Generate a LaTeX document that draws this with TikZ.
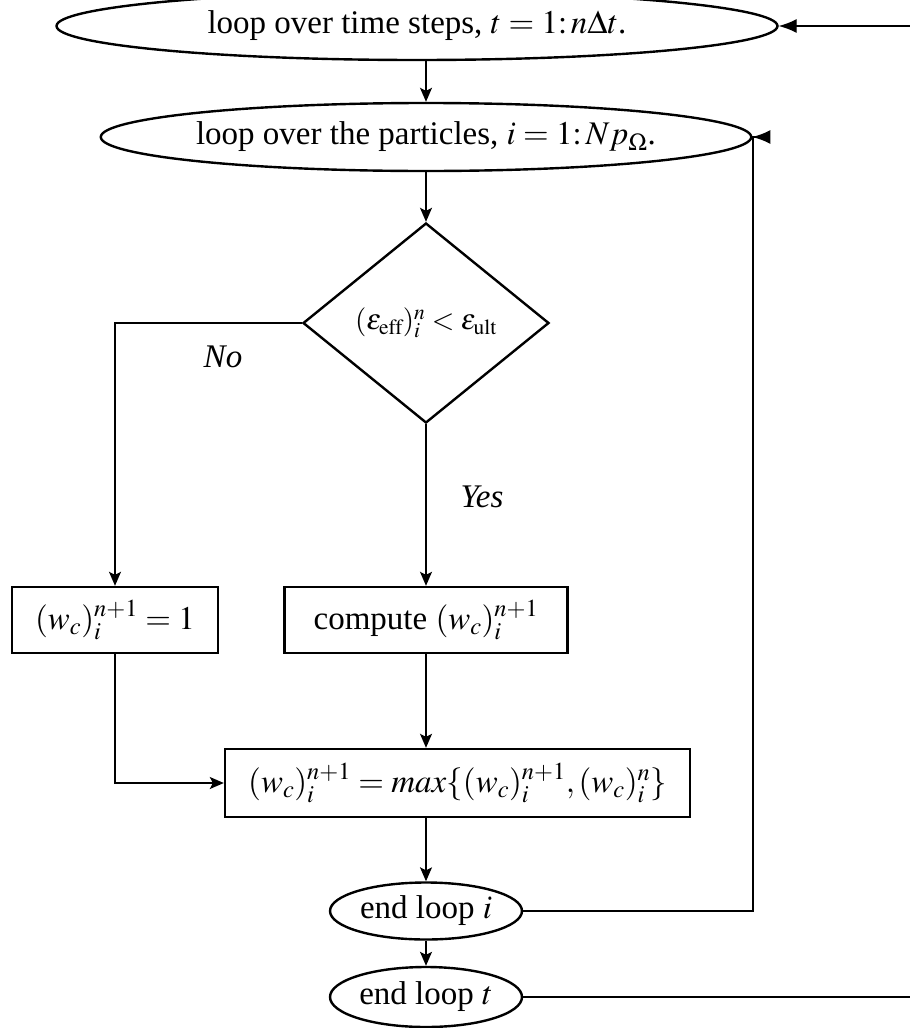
\documentclass[tikz,border=0pt]{standalone}
\usepackage{mathptmx}
\usepackage{fontspec}
\setmainfont{Liberation Serif}
\usetikzlibrary{shapes.geometric,arrows.meta}
\begin{document}
\begin{tikzpicture}[x=1pt,y=-1pt,
  every node/.style={font=\fontsize{33}{38}\selectfont},
  oval/.style={draw,ellipse,line width=2.4pt,inner sep=0pt},
  box/.style={draw,rectangle,line width=2.4pt,inner sep=0pt},
  decision/.style={draw,diamond,line width=2.4pt,inner sep=0pt},
  flow/.style={line width=1.4pt,-{Stealth[length=14pt,width=12pt,inset=3pt]}},
  back/.style={line width=1.4pt,-{Latex[length=18pt,width=14pt]}},
  lbl/.style={font=\fontsize{33}{38}\selectfont\itshape}]
\useasboundingbox (0,0) rectangle (910,1028);
\node[oval,minimum width=721pt,minimum height=68pt] (t) at (417,26) {loop over time steps, $t = 1{:}\,n\Delta t$.};
\node[oval,minimum width=572pt,minimum height=68pt] (p) at (426,137) {loop over the particles, $i = 1{:}\,Np_{\Omega}$.};
\node[decision,minimum width=246pt,minimum height=200pt,font=\fontsize{29}{34}\selectfont] (d) at (426,323) {$(\varepsilon_{\mathrm{eff}})_i^n < \varepsilon_{\mathrm{ult}}$};
\node[box,minimum width=206pt,minimum height=66pt] (b1) at (115,620) {$(w_c)_i^{n+1} = 1$};
\node[box,minimum width=283pt,minimum height=66pt] (b2) at (426,620) {compute $(w_c)_i^{n+1}$};
\node[box,minimum width=465pt,minimum height=68pt] (b3) at (457.5,783) {$(w_c)_i^{n+1} = max\{(w_c)_i^{n+1}, (w_c)_i^n\}$};
\node[oval,minimum width=192pt,minimum height=57pt] (ei) at (426,911) {end loop $i$};
\node[oval,minimum width=192pt,minimum height=60pt] (et) at (426,997) {end loop $t$};
\node[lbl] (no) at (223,357) {No};
\node[lbl] (yes) at (482,497) {Yes};
\coordinate (r1) at (753,0);
\coordinate (r2) at (911,0);
\draw[flow] (t.south -| p.north) -- (p.north);
\draw[flow] (p.south) -- (d.north);
\draw[flow] (d.west) -| (b1.north);
\draw[flow] (d.south) -- (b2.north);
\draw[flow] (b2.south) -- (b2.south |- b3.north);
\draw[flow] (b1.south) |- (b3.west);
\draw[flow] (b2.south |- b3.south) -- (ei.north);
\draw[flow] (ei.south) -- (et.north);
\draw[back] (ei.east) -| (r1 |- p.east) -- (p.east);
\draw[back] (et.east) -| (r2 |- t.east) -- (t.east);
\end{tikzpicture}
\end{document}
